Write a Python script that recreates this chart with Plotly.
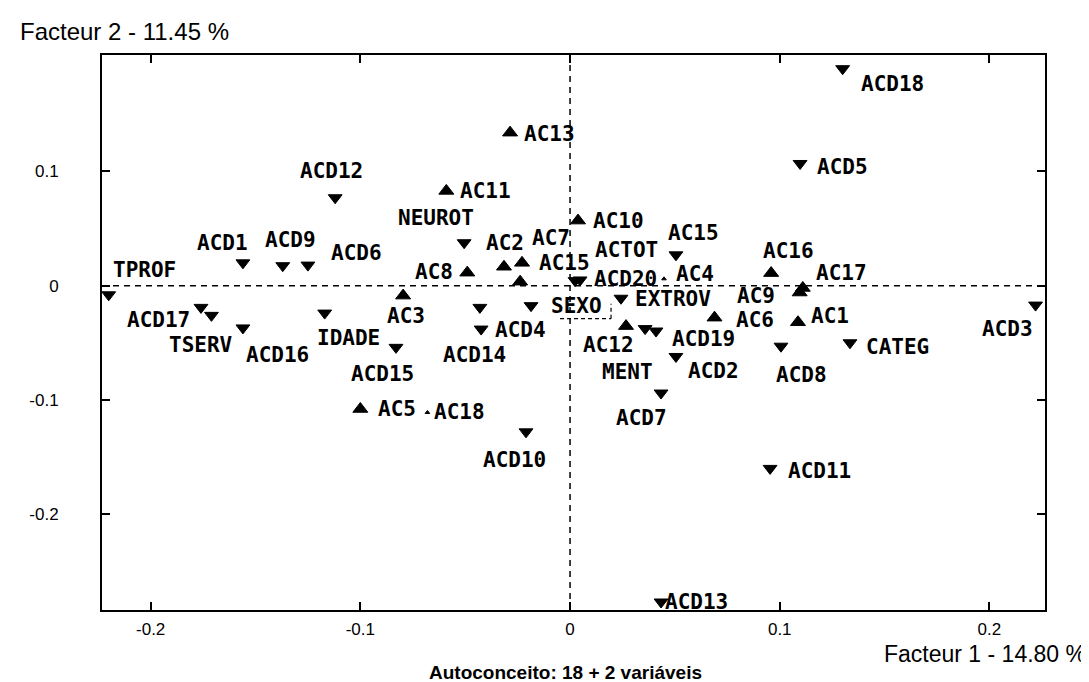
import plotly.graph_objects as go

# ---- data (factor coordinates) ----
labels = ["TPROF", "ACD1", "ACD9", "ACD6", "ACD12", "ACD17", "TSERV", "ACD16", "IDADE", "ACD15",
          "AC3", "AC5", "AC18", "ACD10", "AC13", "AC11", "NEUROT", "AC8", "AC2", "AC15",
          "AC7", "ACD14", "ACD4", "SEXO", "ACTOT", "ACD20", "AC10", "EXTROV", "AC12", "MENT",
          "ACD19", "ACD2", "ACD7", "AC15", "AC4", "AC16", "AC17", "AC9", "AC6", "AC1",
          "ACD8", "CATEG", "ACD5", "ACD18", "ACD11", "ACD13", "ACD3"]
f1 = [-0.220, -0.156, -0.137, -0.125, -0.112, -0.176, -0.171, -0.156, -0.117, -0.083,
      -0.0796, -0.100, -0.068, -0.021, -0.0286, -0.059, -0.0505, -0.049, -0.0315, -0.0229,
      -0.0238, -0.043, -0.0424, -0.0186, 0.0048, 0.0024, 0.0038, 0.0243, 0.0267, 0.0358,
      0.041, 0.0505, 0.0434, 0.0505, 0.0448, 0.0959, 0.111, 0.1095, 0.0689, 0.1087,
      0.1006, 0.1335, 0.1097, 0.130, 0.0954, 0.0434, 0.222]
f2 = [-0.008, 0.020, 0.0175, 0.018, 0.077, -0.019, -0.026, -0.037, -0.024, -0.054,
      -0.0087, -0.108, -0.111, -0.128, 0.134, 0.083, 0.0376, 0.0114, 0.0166, 0.020,
      0.0035, -0.019, -0.038, -0.0175, 0.005, 0.0044, 0.057, -0.011, -0.0354, -0.0376,
      -0.0397, -0.062, -0.094, 0.027, 0.006, 0.011, -0.002, -0.006, -0.028, -0.032,
      -0.053, -0.050, 0.107, 0.190, -0.160, -0.277, -0.017]
kind = ["down", "down", "down", "down", "down", "down", "down", "down", "down", "down",
        "up", "up", "small", "down", "up", "up", "down", "up", "up", "up",
        "up", "down", "down", "down", "down", "down", "up", "down", "up", "down",
        "down", "down", "down", "down", "small", "up", "up", "up", "up", "up",
        "down", "down", "down", "down", "down", "down", "down"]

x_ticks = [-0.2, -0.1, 0, 0.1, 0.2]
x_tick_text = ["-0.2", "-0.1", "0", "0.1", "0.2"]
y_ticks = [-0.2, -0.1, 0, 0.1]
y_tick_text = ["-0.2", "-0.1", "0", "0.1"]

title_y = "Facteur 2 - 11.45 %"
title_x = "Facteur 1 - 14.80 %"
caption = "Autoconceito: 18 + 2 variáveis"

# ---- styling: label offsets (pixels, right / down) ----
label_offsets = [(36, -25), (-20, -20), (8, -26), (49, -12), (-4, -27), (-42, 13), (-10, 30), (35, 27),
                 (24, 25), (-13, 27), (3, 20), (37, 0), (32, 0), (-12, 28), (39, 1), (39, 0),
                 (-28, -25), (-33, -1), (1, -24), (42, 0), (31, -44), (-5, 48), (39, 1), (45, 0),
                 (46, -30), (50, -2), (40, 0), (52, 1), (-18, 19), (-18, 43), (47, 8), (38, 15),
                 (-20, 25), (18, -22), (31, -5), (17, -22), (39, -15), (-44, 3), (40, 2), (32, -6),
                 (21, 29), (48, 4), (42, 4), (50, 15), (49, 3), (35, 0), (-28, 24)]

sym_map = {"up": "triangle-up", "down": "triangle-down", "small": "triangle-up"}
size_map = {"up": 13, "down": 12, "small": 4}

fig = go.Figure()
fig.add_trace(go.Scatter(
    x=f1, y=f2, mode="markers", opacity=1,
    marker=dict(symbol=[sym_map[k] for k in kind], size=[size_map[k] for k in kind],
                color="black", opacity=1, line=dict(width=1, color="black")),
    hovertext=labels, showlegend=False,
))

label_font = dict(family="DejaVu Sans Mono", size=21, color="black", weight="bold")
for name, xv, yv, (dx, dy) in zip(labels, f1, f2, label_offsets):
    fig.add_annotation(x=xv, y=yv, xref="x", yref="y", text=name, showarrow=False,
                       xshift=dx, yshift=-dy, xanchor="center", yanchor="middle",
                       font=label_font)

# dashed reference lines at zero
fig.add_shape(type="line", xref="x", yref="paper", x0=0, x1=0, y0=0, y1=1,
              line=dict(color="black", width=1.5, dash="6px,5px"))
fig.add_shape(type="line", xref="paper", yref="y", x0=0, x1=1, y0=0, y1=0,
              line=dict(color="black", width=1.5, dash="6px,5px"))

# dashed box corner around SEXO label
i_sexo = labels.index("SEXO")
for (a0, a1, b0, b1) in [(29, 80, -13, -13), (80, 80, -13, 2)]:
    fig.add_shape(type="line", xref="x", yref="y", xsizemode="pixel", ysizemode="pixel",
                  xanchor=f1[i_sexo], yanchor=f2[i_sexo], x0=a0, x1=a1, y0=b0, y1=b1,
                  line=dict(color="black", width=1.2, dash="4px,3px"))

axis_common = dict(showgrid=False, zeroline=False, showline=True, linecolor="black",
                   linewidth=2, mirror="ticks", ticks="inside", ticklen=8, tickwidth=1.5,
                   tickcolor="black", tickfont=dict(family="Liberation Sans", size=17, color="black"))

fig.update_xaxes(range=[-0.2232, 0.2265], tickmode="array", tickvals=x_ticks,
                 ticktext=x_tick_text, ticklabelstandoff=3, **axis_common)
fig.update_yaxes(range=[-0.284, 0.202], tickmode="array", tickvals=y_ticks,
                 ticktext=y_tick_text, ticklabelstandoff=38, **axis_common)

fig.add_annotation(xref="paper", yref="paper", x=-0.089, y=1.043, xanchor="left", yanchor="middle",
                   text=title_y, showarrow=False,
                   font=dict(family="Liberation Sans", size=24, color="black"))
fig.add_annotation(xref="paper", yref="paper", x=1.0456, y=-0.080, xanchor="right", yanchor="middle",
                   text=title_x, showarrow=False,
                   font=dict(family="Liberation Sans", size=23, color="black"))
fig.add_annotation(xref="paper", yref="paper", x=0.492, y=-0.112, xanchor="center", yanchor="middle",
                   text=caption, showarrow=False,
                   font=dict(family="Liberation Sans Narrow, Liberation Sans", size=19,
                             color="black", weight="bold"))

fig.update_layout(width=1089, height=682, autosize=False,
                  margin=dict(l=94, r=52, t=47, b=80),
                  plot_bgcolor="white", paper_bgcolor="white")

fig.write_html("out.html")
